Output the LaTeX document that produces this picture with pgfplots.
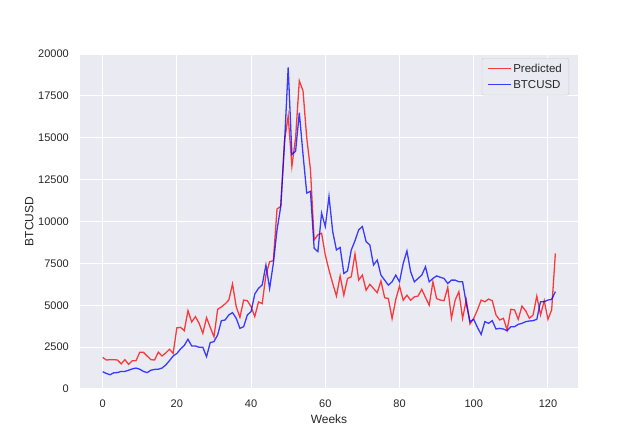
\documentclass[border=0pt]{standalone}
\usepackage{fontspec}
\setmainfont{Liberation Sans}
\usepackage{pgfplots}
\usepackage{pgfplotstable}
\pgfplotsset{compat=1.18}
\definecolor{sbbg}{RGB}{234,234,242}
\definecolor{sbtext}{RGB}{38,38,38}
\definecolor{sbedge}{RGB}{204,204,204}

% weekly prediction vs actual BTC price
\pgfplotstableread{
week pred btc
0 1890 1030
1 1730 930
2 1750 850
3 1750 970
4 1730 980
5 1500 1050
6 1750 1050
7 1470 1120
8 1690 1200
9 1690 1250
10 2190 1180
11 2190 1050
12 1970 980
13 1750 1120
14 1730 1170
15 2200 1180
16 1970 1250
17 2150 1430
18 2370 1690
19 2130 1970
20 3650 2120
21 3680 2390
22 3480 2600
23 4680 2970
24 4000 2570
25 4320 2570
26 3920 2490
27 3320 2490
28 4260 1930
29 3680 2770
30 3120 2830
31 4760 3230
32 4900 4080
33 5080 4120
34 5310 4420
35 6270 4560
36 4910 4220
37 4280 3620
38 5310 3720
39 5270 4420
40 4910 4620
41 4320 5670
42 5200 6010
43 5100 6210
44 6800 7400
45 7600 6000
46 7660 7500
47 10750 9500
48 10900 10900
49 14800 14600
50 16300 19200
51 13300 14000
52 15000 14200
53 18400 16500
54 17800 14000
55 15000 11700
56 13100 11800
57 8900 8400
58 9200 8200
59 9300 10500
60 8000 9700
61 7100 11500
62 6300 9400
63 5550 8300
64 6750 8450
65 5600 6900
66 6600 7050
67 6700 8300
68 8060 8850
69 6500 9500
70 6800 9700
71 5900 8800
72 6250 8600
73 6000 7400
74 5750 7700
75 6450 6800
76 5450 6500
77 5400 6200
78 4200 6400
79 5350 6800
80 6150 6400
81 5300 7500
82 5600 8240
83 5300 7000
84 5500 6400
85 5550 6600
86 5950 6800
87 5470 7300
88 5000 6400
89 6400 6600
90 5400 6750
91 5310 6670
92 5270 6600
93 6070 6300
94 4220 6500
95 5310 6500
96 5810 6400
97 4220 6400
98 5310 5100
99 3880 4020
100 4220 4160
101 4720 3680
102 5310 3260
103 5210 4020
104 5370 3920
105 5270 4080
106 4420 3580
107 4120 3620
108 4220 3580
109 3520 3480
110 4760 3720
111 4720 3720
112 4160 3860
113 4950 3920
114 4670 4020
115 4220 4060
116 4420 4080
117 5550 4160
118 4420 5210
119 5270 5210
120 4160 5310
121 4720 5350
122 8100 5810
}\weekly

\begin{document}
\begin{tikzpicture}
\useasboundingbox (-80pt,-50pt) rectangle (560pt,389pt);
\begin{axis}[
  scale only axis, width=498pt, height=335pt,
  xmin=-6.1, xmax=128.1, ymin=0, ymax=20000,
  xtick={0,20,...,120}, ytick={0,2500,...,20000},
  axis background/.style={fill=sbbg},
  axis line style={draw=none},
  major tick length=0pt,
  grid=major, major grid style={white, line width=1.1pt},
  /pgf/number format/assume math mode=true,
  /pgf/number format/1000 sep={},
  scaled y ticks=false,
  tick label style={font=\fontsize{11}{13}\selectfont, text=sbtext},
  xticklabel style={inner sep=0pt, anchor=north, yshift=-11pt},
  yticklabel style={inner sep=0pt, anchor=east, xshift=-11pt},
  xlabel={Weeks}, ylabel={BTCUSD},
  label style={font=\fontsize{12}{14}\selectfont, text=sbtext},
  xlabel style={at={(axis description cs:0.5,-0.09)}, anchor=center},
  ylabel style={at={(axis description cs:-0.102,0.5)}, anchor=center},
  legend style={at={(axis description cs:0.982,0.988)}, anchor=north east,
    fill=sbbg, draw=sbedge, rounded corners=2pt,
    font=\fontsize{11.5}{13}\selectfont, text=sbtext,
    inner xsep=5pt, inner ysep=3.5pt, row sep=2.5pt},
  legend cell align=left,
  legend image code/.code={\draw[#1, line width=1.3pt] (0pt,0pt) -- (23pt,0pt);},
]
\addplot[red, draw opacity=0.75, line width=1.3pt] table[x=week, y=pred] {\weekly};
\addlegendentry{Predicted}
\addplot[blue, draw opacity=0.75, line width=1.3pt] table[x=week, y=btc] {\weekly};
\addlegendentry{BTCUSD}
\end{axis}
\end{tikzpicture}
\end{document}
